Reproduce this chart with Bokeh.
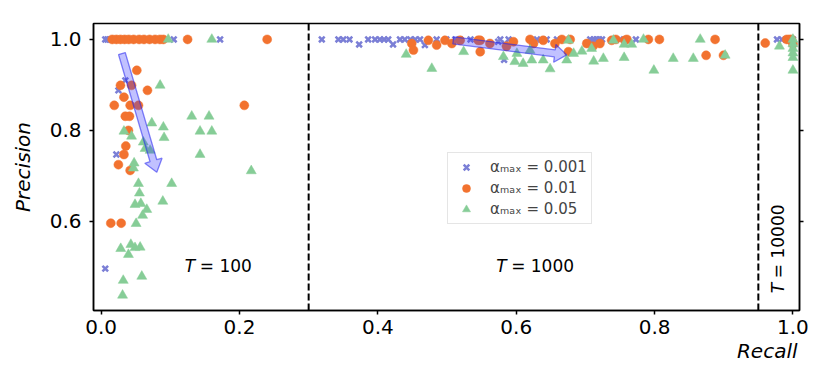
import math
from bokeh.plotting import figure
from bokeh.models import (Span, Label, Legend, LegendItem, LinearAxis, FixedTicker,
                          PrintfTickFormatter, Range1d, Title)
from bokeh.embed import file_html
from bokeh.resources import INLINE

# ---------------- data ----------------
series_labels = ["αₘₐₓ = 0.001", "αₘₐₓ = 0.01", "αₘₐₓ = 0.05"]

# alpha_max = 0.001 (blue crosses)
a001_recall = [0.006, 0.009, 0.013, 0.020, 0.030, 0.050, 0.070, 0.105, 0.172,
               0.035, 0.025, 0.022, 0.006,
               0.319, 0.343, 0.350, 0.359, 0.386, 0.396, 0.403, 0.409, 0.415, 0.432,
               0.439, 0.447, 0.454, 0.461, 0.485, 0.499, 0.512, 0.519, 0.534, 0.577,
               0.589, 0.630, 0.644, 0.659, 0.707, 0.712, 0.716, 0.720, 0.724, 0.742,
               0.750, 0.773,
               0.373, 0.422, 0.468, 0.574, 0.584, 0.5825,
               0.977, 0.984, 0.991, 0.995, 1.000]
a001_precision = [1.0, 1.0, 1.0, 1.0, 1.0, 1.0, 1.0, 1.0, 1.0,
                  0.910, 0.888, 0.747, 0.496,
                  1.0, 1.0, 1.0, 1.0, 1.0, 1.0, 1.0, 1.0, 1.0, 1.0,
                  1.0, 1.0, 1.0, 1.0, 1.0, 1.0, 1.0, 1.0, 1.0, 1.0,
                  1.0, 1.0, 1.0, 1.0, 1.0, 1.0, 1.0, 1.0, 1.0, 1.0,
                  1.0, 1.0,
                  0.989, 0.989, 0.9875, 0.995, 0.990, 0.955,
                  1.0, 1.0, 1.0, 1.0, 1.0]

# alpha_max = 0.01 (orange circles)
a01_recall = [0.016, 0.022, 0.028, 0.034, 0.040, 0.047, 0.055, 0.062, 0.070, 0.078,
              0.085, 0.090, 0.125, 0.240,
              0.0516, 0.028, 0.044, 0.067, 0.033, 0.019, 0.042, 0.054, 0.207, 0.035,
              0.041, 0.0395, 0.0357, 0.033, 0.025, 0.042, 0.014, 0.029,
              0.449, 0.4515, 0.473, 0.485, 0.497, 0.507, 0.519, 0.545, 0.548, 0.548,
              0.562, 0.586, 0.596, 0.620, 0.625, 0.639, 0.656, 0.666, 0.6755, 0.678,
              0.702, 0.711, 0.721, 0.738, 0.744, 0.757, 0.760, 0.791, 0.807, 0.8745,
              0.8875, 0.8996,
              0.960, 0.991, 0.995, 0.998, 1.000]
a01_precision = [1.0, 1.0, 1.0, 1.0, 1.0, 1.0, 1.0, 1.0, 1.0, 1.0,
                 1.0, 1.0, 1.0, 1.0,
                 0.932, 0.899, 0.899, 0.888, 0.873, 0.855, 0.855, 0.855, 0.855, 0.831,
                 0.831, 0.800, 0.7655, 0.747, 0.7246, 0.712, 0.596, 0.596,
                 0.991, 0.9765, 0.998, 0.9875, 0.998, 0.991, 0.998, 0.998, 0.973, 0.998,
                 0.991, 0.985, 0.995, 1.0, 0.991, 0.998, 0.991, 1.0, 0.973, 1.0,
                 0.991, 0.985, 0.991, 0.998, 1.0, 0.998, 1.0, 1.0, 1.0, 0.965,
                 1.0, 0.965,
                 0.992, 1.0, 1.0, 1.0, 0.990]

# alpha_max = 0.05 (green triangles)
a05_recall = [0.097, 0.160,
              0.0853, 0.131, 0.156, 0.0733, 0.033, 0.090, 0.044, 0.143, 0.160, 0.091,
              0.061, 0.0636, 0.0708, 0.143, 0.0477, 0.0467, 0.217, 0.054, 0.102, 0.0554,
              0.0892, 0.049, 0.0574, 0.066, 0.060, 0.0506, 0.0284, 0.043, 0.049, 0.0564,
              0.0395, 0.032, 0.0588, 0.031,
              0.441, 0.478, 0.524, 0.5815, 0.601, 0.598, 0.610, 0.6225, 0.620, 0.639,
              0.649, 0.673, 0.683, 0.695, 0.6755, 0.712, 0.726, 0.709, 0.7405, 0.756,
              0.756, 0.767, 0.784, 0.799, 0.827, 0.856, 0.866, 0.902,
              0.9805, 1.0, 1.0, 1.0, 1.0, 1.0, 1.0]
a05_precision = [1.0, 1.0,
                 0.899, 0.831, 0.831, 0.816, 0.798, 0.807, 0.787, 0.798, 0.798, 0.784,
                 0.774, 0.760, 0.756, 0.747, 0.728, 0.717, 0.711, 0.683, 0.683, 0.662,
                 0.644, 0.637, 0.639, 0.626, 0.613, 0.595, 0.540, 0.549, 0.542, 0.543,
                 0.527, 0.470, 0.479, 0.4374,
                 0.967, 0.936, 0.973, 0.962, 0.969, 0.951, 0.947, 0.9545, 0.976, 0.9545,
                 0.935, 0.9545, 0.969, 0.974, 0.998, 0.952, 0.958, 0.980, 0.998, 0.960,
                 0.989, 0.989, 1.0, 0.932, 0.958, 0.958, 1.0, 0.965,
                 0.985, 1.0, 0.99, 0.98, 0.97, 0.96, 0.932]

# budget boundaries and region labels
boundaries = [0.3, 0.95]
region_labels = ["100", "1000", "10000"]

# trend arrows (start recall, start precision, end recall, end precision)
arrow_starts = [(0.030, 0.969), (0.509, 0.998)]
arrow_ends = [(0.0805, 0.708), (0.673, 0.966)]

x_ticks = [0.0, 0.2, 0.4, 0.6, 0.8, 1.0]
y_ticks = [0.6, 0.8, 1.0]

# ---------------- figure ----------------
X0, X1 = -0.011, 1.0095
Y0, Y1 = 0.404, 1.035
W, H = 830, 389
ML, MR, MT, MB = 93, 31, 23, 79

p = figure(width=W, height=H, x_range=Range1d(X0, X1), y_range=Range1d(Y0, Y1),
           output_backend="svg", toolbar_location=None,
           min_border_left=ML, min_border_right=MR, min_border_top=MT, min_border_bottom=MB)
p.xgrid.visible = False
p.ygrid.visible = False
p.outline_line_color = "black"
p.outline_line_width = 1.5
p.outline_line_alpha = 1.0
p.background_fill_color = "white"
p.border_fill_color = "white"

FONT = "DejaVu Sans"

def style_axis(ax):
    ax.axis_line_color = "black"
    ax.axis_line_width = 1.5
    ax.major_tick_line_color = "black"
    ax.major_tick_line_width = 1.5
    ax.major_tick_in = 0
    ax.major_tick_out = 4
    ax.minor_tick_line_color = None
    ax.major_label_text_font = FONT
    ax.major_label_text_font_size = "20px"
    ax.major_label_text_color = "black"
    ax.axis_label_text_font = FONT
    ax.axis_label_text_font_size = "20px"
    ax.axis_label_text_font_style = "italic"
    ax.axis_label_text_color = "black"

xa = p.xaxis[0]
xa.ticker = FixedTicker(ticks=x_ticks)
xa.formatter = PrintfTickFormatter(format="%.1f")
style_axis(xa)
xa.major_label_standoff = 5

ya = p.yaxis[0]
ya.ticker = FixedTicker(ticks=y_ticks)
ya.formatter = PrintfTickFormatter(format="%.1f")
style_axis(ya)
ya.major_label_standoff = 8
ya.axis_label = "Precision"
ya.axis_label_standoff = 12

ra = LinearAxis(ticker=FixedTicker(ticks=y_ticks),
                major_label_overrides={t: "" for t in y_ticks})
style_axis(ra)
p.add_layout(ra, "right")

# x-axis title, right-aligned under the frame (matplotlib style)
p.add_layout(Title(text="Recall", align="right", text_font=FONT,
                   text_font_style="italic", text_font_size="20px",
                   text_color="black", standoff=0, offset=2), "below")

# boundaries
for b in boundaries:
    p.add_layout(Span(location=b, dimension="height", line_color="black",
                      line_width=2, line_dash="7 3"))

# points
BLUE, ORANGE, GREEN = "#7b7fd6", "#f2722f", "#86cd97"
r1 = p.scatter(a001_recall, a001_precision, marker="x", size=8, line_color=BLUE,
               line_width=2.5)
r2 = p.scatter(a01_recall, a01_precision, marker="circle", size=9, fill_color=ORANGE,
               line_color=ORANGE, line_width=0.5)
r3 = p.scatter(a05_recall, a05_precision, marker="triangle", size=10, fill_color=GREEN,
               line_color=GREEN, line_width=0.5)

# arrows (fat arrows built in pixel space, converted back to data units)
fw = W - ML - MR
fh = H - MT - MB
sx = fw / (X1 - X0)
sy = fh / (Y1 - Y0)
shaft_hw, head_hw, head_len = 3.5, 9.0, 12.0
for (xs0, ys0), (xe0, ye0) in zip(arrow_starts, arrow_ends):
    dx = (xe0 - xs0) * sx
    dy = (ye0 - ys0) * sy
    L = math.hypot(dx, dy)
    ux, uy = dx / L, dy / L
    nx, ny = -uy, ux
    pts = [(0, shaft_hw), (L - head_len, shaft_hw), (L - head_len, head_hw), (L, 0),
           (L - head_len, -head_hw), (L - head_len, -shaft_hw), (0, -shaft_hw)]
    px = [xs0 + (a * ux + b * nx) / sx for a, b in pts]
    py = [ys0 + (a * uy + b * ny) / sy for a, b in pts]
    p.patch(px, py, fill_color="#3333ff", fill_alpha=0.3, line_color="#2222ee",
            line_alpha=0.55, line_width=1.3)

# region labels
TS = "17px"
label_pos = [(0.121, 0.501, 0), (0.571, 0.501, 0), (0.9785, 0.442, math.pi / 2)]
for (lx, ly, ang), txt in zip(label_pos, region_labels):
    vertical = ang != 0
    p.add_layout(Label(x=lx, y=ly, text="T", angle=ang, text_font=FONT,
                       text_font_style="italic", text_font_size=TS,
                       text_align="left", text_baseline="middle", text_color="black"))
    p.add_layout(Label(x=lx, y=ly, text="= " + txt, angle=ang, text_font=FONT,
                       text_font_size=TS, text_align="left", text_baseline="middle",
                       text_color="black",
                       x_offset=0 if vertical else 15, y_offset=15 if vertical else 0))

# legend
legend = Legend(items=[LegendItem(label=series_labels[0], renderers=[r1]),
                       LegendItem(label=series_labels[1], renderers=[r2]),
                       LegendItem(label=series_labels[2], renderers=[r3])],
                location=(354, 86), orientation="vertical",
                label_text_font=FONT, label_text_font_size="15px",
                border_line_color="#cccccc", border_line_width=1,
                background_fill_color="white", background_fill_alpha=0.85,
                padding=4, spacing=1, glyph_width=28, glyph_height=20,
                label_height=20, label_standoff=10, margin=0)
p.add_layout(legend)

open("out.html", "w").write(file_html(p, INLINE))
